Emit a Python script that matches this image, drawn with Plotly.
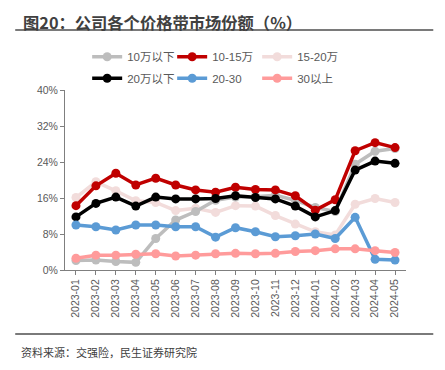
import plotly.graph_objects as go

months = ["2023-01","2023-02","2023-03","2023-04","2023-05","2023-06","2023-07","2023-08","2023-09",
          "2023-10","2023-11","2023-12","2024-01","2024-02","2024-03","2024-04","2024-05"]

s_below10 = [2.1, 2.2, 1.9, 1.7, 7.0, 11.1, 13.0, 15.5, 16.2, 16.3, 16.6, 15.5, 13.9, 13.0, 23.5, 26.4, 27.0]
s_10_15 = [14.3, 18.7, 21.5, 18.9, 20.4, 18.9, 17.8, 17.3, 18.4, 17.9, 17.8, 16.5, 13.3, 15.6, 26.5, 28.3, 27.2]
s_15_20 = [16.1, 19.6, 17.6, 15.4, 15.0, 13.2, 13.7, 12.8, 14.3, 14.2, 12.1, 10.2, 8.5, 7.8, 14.6, 15.9, 15.0]
s_below20 = [11.8, 14.8, 16.2, 14.2, 16.2, 15.8, 15.8, 15.9, 16.5, 16.1, 15.8, 14.2, 11.8, 13.2, 22.2, 24.2, 23.7]
s_20_30 = [10.0, 9.6, 8.9, 10.0, 10.0, 9.6, 9.6, 7.3, 9.4, 8.5, 7.4, 7.6, 8.0, 7.0, 11.7, 2.4, 2.2]
s_above30 = [2.6, 3.3, 3.3, 3.5, 3.6, 3.1, 3.3, 3.6, 3.7, 3.6, 3.7, 4.1, 4.3, 4.7, 4.7, 4.3, 3.9]

y_ticks = [0, 8, 16, 24, 32, 40]
y_tick_text = ["0%", "8%", "16%", "24%", "32%", "40%"]

series = [
    ("15-20万", s_15_20, "#F2DCDB", "legend", 3),
    ("10万以下", s_below10, "#BDBDBD", "legend", 1),
    ("10-15万", s_10_15, "#C00000", "legend", 2),
    ("20万以下", s_below20, "#000000", "legend2", 1),
    ("20-30", s_20_30, "#5B9BD5", "legend2", 2),
    ("30以上", s_above30, "#FF9B9B", "legend2", 3),
]

fig = go.Figure()
for name, vals, color, leg, rank in series:
    fig.add_trace(go.Scatter(
        x=months, y=vals, name=name, mode="lines+markers",
        line=dict(color=color, width=3.5),
        marker=dict(color=color, size=9),
        legend=leg, legendrank=rank,
    ))

font_main = "Liberation Sans, Noto Sans CJK SC, sans-serif"
legend_common = dict(orientation="h", xanchor="left", yanchor="middle",
                     font=dict(size=11.5, color="#595959", family=font_main),
                     entrywidth=40, entrywidthmode="pixels", itemwidth=30,
                     bgcolor="rgba(0,0,0,0)", tracegroupgap=0, traceorder="normal")

fig.update_layout(
    width=437, height=362,
    margin=dict(l=57, r=39, t=82, b=100, autoexpand=False),
    paper_bgcolor="white", plot_bgcolor="white",
    font=dict(family=font_main, color="#595959"),
    showlegend=True,
    legend=dict(x=0.065, y=1.185, xref="paper", yref="paper", **legend_common),
    legend2=dict(x=0.065, y=1.065, xref="paper", yref="paper", **legend_common),
    xaxis=dict(
        type="category", tickangle=-90, tickfont=dict(size=10.5, color="#595959"),
        showline=True, linecolor="#7f7f7f", linewidth=1,
        ticks="outside", ticklen=4, tickcolor="#7f7f7f",
        showgrid=False, range=[-0.55, 16.55], automargin=False,
    ),
    yaxis=dict(
        range=[0, 40], tickvals=y_ticks, ticktext=y_tick_text,
        tickfont=dict(size=10.5, color="#595959"),
        showline=True, linecolor="#7f7f7f", linewidth=1,
        ticks="outside", ticklen=4, tickcolor="#7f7f7f",
        showgrid=False, zeroline=False, automargin=False,
    ),
    shapes=[
        dict(type="line", xref="paper", yref="paper", x0=-0.146, x1=1.08, y0=1.333, y1=1.333,
             line=dict(color="#7a7a7a", width=2)),
        dict(type="line", xref="paper", yref="paper", x0=-0.146, x1=1.08, y0=-0.355, y1=-0.355,
             line=dict(color="#7a7a7a", width=2)),
    ],
    annotations=[
        dict(text="<b>图20：公司各个价格带市场份额（%）</b>", xref="paper", yref="paper",
             x=-0.13, y=1.378, xanchor="left", yanchor="middle", showarrow=False,
             font=dict(size=16.3, color="#404040", family="Noto Sans CJK SC, sans-serif")),
        dict(text="资料来源：交强险，民生证券研究院", xref="paper", yref="paper",
             x=-0.135, y=-0.455, xanchor="left", yanchor="middle", showarrow=False,
             font=dict(size=11, color="#404040", family="Noto Sans CJK SC, sans-serif")),
    ],
)

fig.write_html("out.html")
